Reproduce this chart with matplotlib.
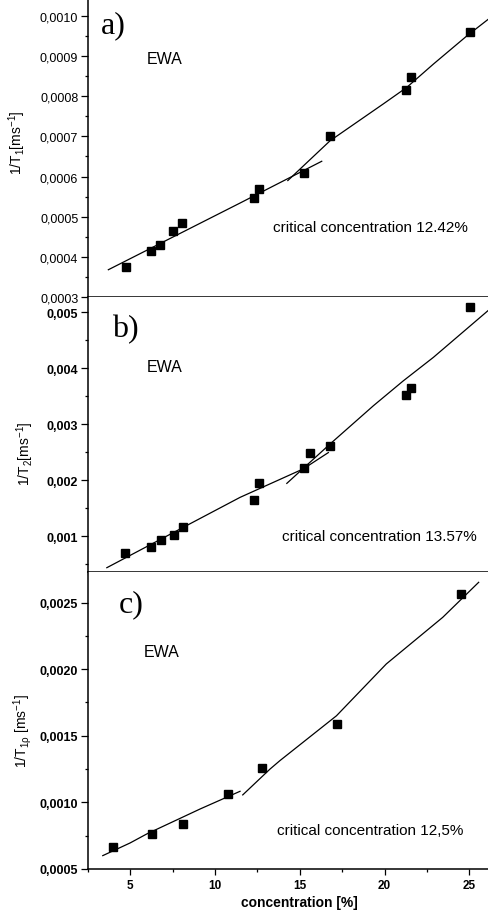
import numpy as np
import matplotlib
matplotlib.use('Agg')
import matplotlib.pyplot as plt
from matplotlib.ticker import MultipleLocator, FuncFormatter

plt.rcParams['font.family'] = ['Liberation Sans', 'DejaVu Sans']
plt.rcParams['mathtext.fontset'] = 'custom'
plt.rcParams['mathtext.rm'] = 'Liberation Sans'
plt.rcParams['mathtext.it'] = 'Liberation Sans'
plt.rcParams['mathtext.default'] = 'regular'

# concentration [%] and relaxation rates
conc_t1 = [4.73, 6.22, 6.75, 7.54, 8.07, 12.32, 12.59, 15.23, 16.78, 21.28, 21.56, 25.02]
rate_t1 = [0.000375, 0.000415, 0.000429, 0.000465, 0.000484, 0.000547, 0.000569,
           0.000608, 0.000702, 0.000816, 0.000847, 0.000960]
fit1_t1_x = [3.70, 11.47, 16.29]
fit1_t1_y = [0.000368, 0.000534, 0.000638]
fit2_t1_x = [14.29, 16.78, 19.93, 21.31, 22.88, 24.85, 26.16]
fit2_t1_y = [0.000590, 0.000689, 0.000781, 0.000822, 0.000880, 0.000950, 0.000993]

conc_t2 = [4.69, 6.22, 6.81, 7.56, 8.09, 12.32, 12.61, 15.27, 15.58, 16.78, 21.28, 21.58, 25.02]
rate_t2 = [0.000691, 0.000810, 0.000929, 0.001023, 0.00116, 0.001643, 0.00194,
           0.002214, 0.002477, 0.0026, 0.003523, 0.003648, 0.005095]
fit1_t2_x = [3.61, 8.09, 11.47, 15.21, 16.68]
fit1_t2_y = [0.000434, 0.00115, 0.00169, 0.0022, 0.00249]
fit2_t2_x = [14.23, 16.78, 19.34, 21.11, 22.88, 26.16]
fit2_t2_y = [0.00194, 0.002643, 0.003327, 0.003773, 0.004191, 0.00504]

conc_t1r = [3.96, 6.30, 8.09, 10.78, 12.75, 17.18, 24.48]
rate_t1r = [0.000665, 0.000762, 0.000837, 0.001065, 0.001258, 0.001586, 0.002562]
fit1_t1r_x = [3.37, 4.98, 5.97, 9.11, 11.47]
fit1_t1r_y = [0.0006, 0.000695, 0.000763, 0.00095, 0.001083]
fit2_t1r_x = [11.63, 13.24, 13.82, 17.16, 20.1, 23.43, 25.55]
fit2_t1r_y = [0.001056, 0.00125, 0.001313, 0.00165, 0.002039, 0.002389, 0.002652]

panels = [
    dict(x=conc_t1, y=rate_t1, f1=(fit1_t1_x, fit1_t1_y), f2=(fit2_t1_x, fit2_t1_y),
         ylim=(0.0003, 0.001042), major=0.0001, minor=0.00005, fmt='{:.4f}',
         ylabel=r'1/T$_1$[ms$^{-1}$]', tag='a)', crit='critical concentration 12.42%',
         rect=[0.18, 0.6732, 0.82, 0.3268], bold=False,
         ylab_pos=(-0.15, 0.52), tag_pos=(0.064, 0.913), ewa_pos=(0.192, 0.799),
         crit_pos=(0.462, 0.236)),
    dict(x=conc_t2, y=rate_t2, f1=(fit1_t2_x, fit1_t2_y), f2=(fit2_t2_x, fit2_t2_y),
         ylim=(0.000357, 0.005268), major=0.001, minor=0.0005, fmt='{:.3f}',
         ylabel=r'1/T$_2$[ms$^{-1}$]', tag='b)', crit='critical concentration 13.57%',
         rect=[0.18, 0.3717, 0.82, 0.3015], bold=True,
         ylab_pos=(-0.13, 0.433), tag_pos=(0.094, 0.884), ewa_pos=(0.191, 0.749),
         crit_pos=(0.483, 0.13)),
    dict(x=conc_t1r, y=rate_t1r, f1=(fit1_t1r_x, fit1_t1r_y), f2=(fit2_t1r_x, fit2_t1r_y),
         ylim=(0.0005, 0.00273), major=0.0005, minor=0.00025, fmt='{:.4f}',
         ylabel=r'1/T$_{1\rho}$ [ms$^{-1}$]', tag='c)', crit='critical concentration 12,5%',
         rect=[0.18, 0.0461, 0.82, 0.3257], bold=True,
         ylab_pos=(-0.135, 0.468), tag_pos=(0.107, 0.892), ewa_pos=(0.183, 0.731),
         crit_pos=(0.471, 0.132)),
]

fig = plt.figure(figsize=(4.89, 9.12), dpi=100)

for i, p in enumerate(panels):
    ax = fig.add_axes(p['rect'])
    ax.plot(p['x'], p['y'], 's', color='black', ms=5.5, zorder=3)
    ax.plot(*p['f1'], '-', color='black', lw=0.9)
    ax.plot(*p['f2'], '-', color='black', lw=0.9)

    ax.set_xlim(2.5, 26.16)
    ax.set_ylim(*p['ylim'])
    ax.spines['top'].set_visible(False)
    ax.spines['right'].set_visible(False)
    for s in ('left', 'bottom'):
        ax.spines[s].set_linewidth(1.1)

    fmt = p['fmt']
    ax.yaxis.set_major_locator(MultipleLocator(p['major']))
    ax.yaxis.set_minor_locator(MultipleLocator(p['minor']))
    ax.yaxis.set_major_formatter(FuncFormatter(lambda v, pos, fmt=fmt: fmt.format(v).replace('.', ',')))
    ax.tick_params(axis='y', which='major', direction='out', length=5, width=0.9,
                   labelsize=9, pad=2)
    ax.tick_params(axis='y', which='minor', direction='out', length=2.5, width=0.9)
    if p['bold']:
        for lab in ax.get_yticklabels():
            lab.set_fontweight('bold')

    if i < 2:
        ax.xaxis.set_major_locator(MultipleLocator(2.5))
        ax.xaxis.set_minor_locator(plt.NullLocator())
        ax.tick_params(axis='x', which='major', direction='out', length=2.5, width=0.9,
                       labelbottom=False)
    else:
        ax.xaxis.set_major_locator(MultipleLocator(5))
        ax.xaxis.set_minor_locator(MultipleLocator(2.5))
        ax.tick_params(axis='x', which='major', direction='out', length=4, width=0.9,
                       labelsize=8.5, pad=3)
        ax.tick_params(axis='x', which='minor', direction='out', length=2, width=0.9)
        for lab in ax.get_xticklabels():
            lab.set_fontweight('bold')
        ax.set_xlabel('concentration [%]', fontsize=10, fontweight='bold', va='center')
        ax.xaxis.set_label_coords(0.526, -0.111)

    ax.set_ylabel(p['ylabel'], fontsize=10)
    ax.yaxis.set_label_coords(*p['ylab_pos'])

    ax.text(*p['tag_pos'], p['tag'], transform=ax.transAxes, ha='center', va='center',
            fontsize=23, family='Liberation Serif')
    ax.text(*p['ewa_pos'], 'EWA', transform=ax.transAxes, ha='center', va='center',
            fontsize=11.5)
    ax.text(*p['crit_pos'], p['crit'], transform=ax.transAxes, ha='left', va='center',
            fontsize=11)

fig.savefig('out.png', dpi=100)
